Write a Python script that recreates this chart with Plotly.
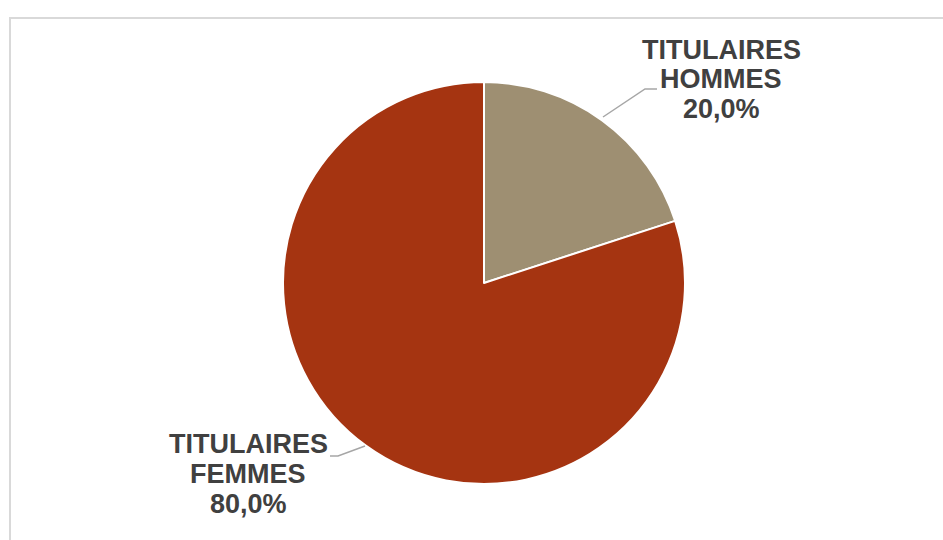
import plotly.graph_objects as go

W, H = 943, 540

categories = ["TITULAIRES HOMMES", "TITULAIRES FEMMES"]
values = [20.0, 80.0]
colors = ["#9E8F72", "#A53411"]
label_lines = {
    "TITULAIRES HOMMES": ["TITULAIRES", "HOMMES", "20,0%"],
    "TITULAIRES FEMMES": ["TITULAIRES", "FEMMES", "80,0%"],
}

def px(x):
    return x / W

def py(y):
    return 1 - y / H

cx, cy, r = 484, 283, 201

fig = go.Figure(go.Pie(
    labels=categories,
    values=values,
    marker=dict(colors=colors, line=dict(color="white", width=2)),
    sort=False,
    direction="clockwise",
    rotation=0,
    textinfo="none",
    hoverinfo="label+percent",
    showlegend=False,
    domain=dict(x=[px(cx - r), px(cx + r)], y=[py(cy + r), py(cy - r)]),
))

font = dict(family="Liberation Sans, Arial, sans-serif", size=27, color="#404040")
annotations = []
label_pos = {
    "TITULAIRES HOMMES": (721, [49.5, 78.5, 108.5]),
    "TITULAIRES FEMMES": (248, [444, 473.5, 503.5]),
}
for cat in categories:
    xc, ys = label_pos[cat]
    for line, yy in zip(label_lines[cat], ys):
        annotations.append(dict(
            x=px(xc), y=py(yy), xref="paper", yref="paper",
            text="<b>%s</b>" % line, showarrow=False, font=font,
            xanchor="center", yanchor="middle",
        ))

leader = dict(color="#A6A6A6", width=1.5)
shapes = [
    dict(type="path", xref="paper", yref="paper",
         path="M %f %f L %f %f L %f %f" % (px(603), py(117), px(645), py(89), px(657), py(89)),
         line=leader),
    dict(type="path", xref="paper", yref="paper",
         path="M %f %f L %f %f L %f %f" % (px(330), py(456), px(338), py(456), px(365), py(446)),
         line=leader),
    dict(type="rect", xref="paper", yref="paper",
         x0=px(10), x1=1.02, y0=-0.02, y1=py(18),
         line=dict(color="#D9D9D9", width=2), fillcolor="rgba(0,0,0,0)", layer="below"),
]

fig.update_layout(
    width=W, height=H,
    margin=dict(l=0, r=0, t=0, b=0),
    paper_bgcolor="white",
    plot_bgcolor="white",
    annotations=annotations,
    shapes=shapes,
)

fig.write_html(
    "out.html",
    config={"displayModeBar": False},
    post_script="document.body.style.margin='0px';document.body.style.overflow='hidden';",
)
